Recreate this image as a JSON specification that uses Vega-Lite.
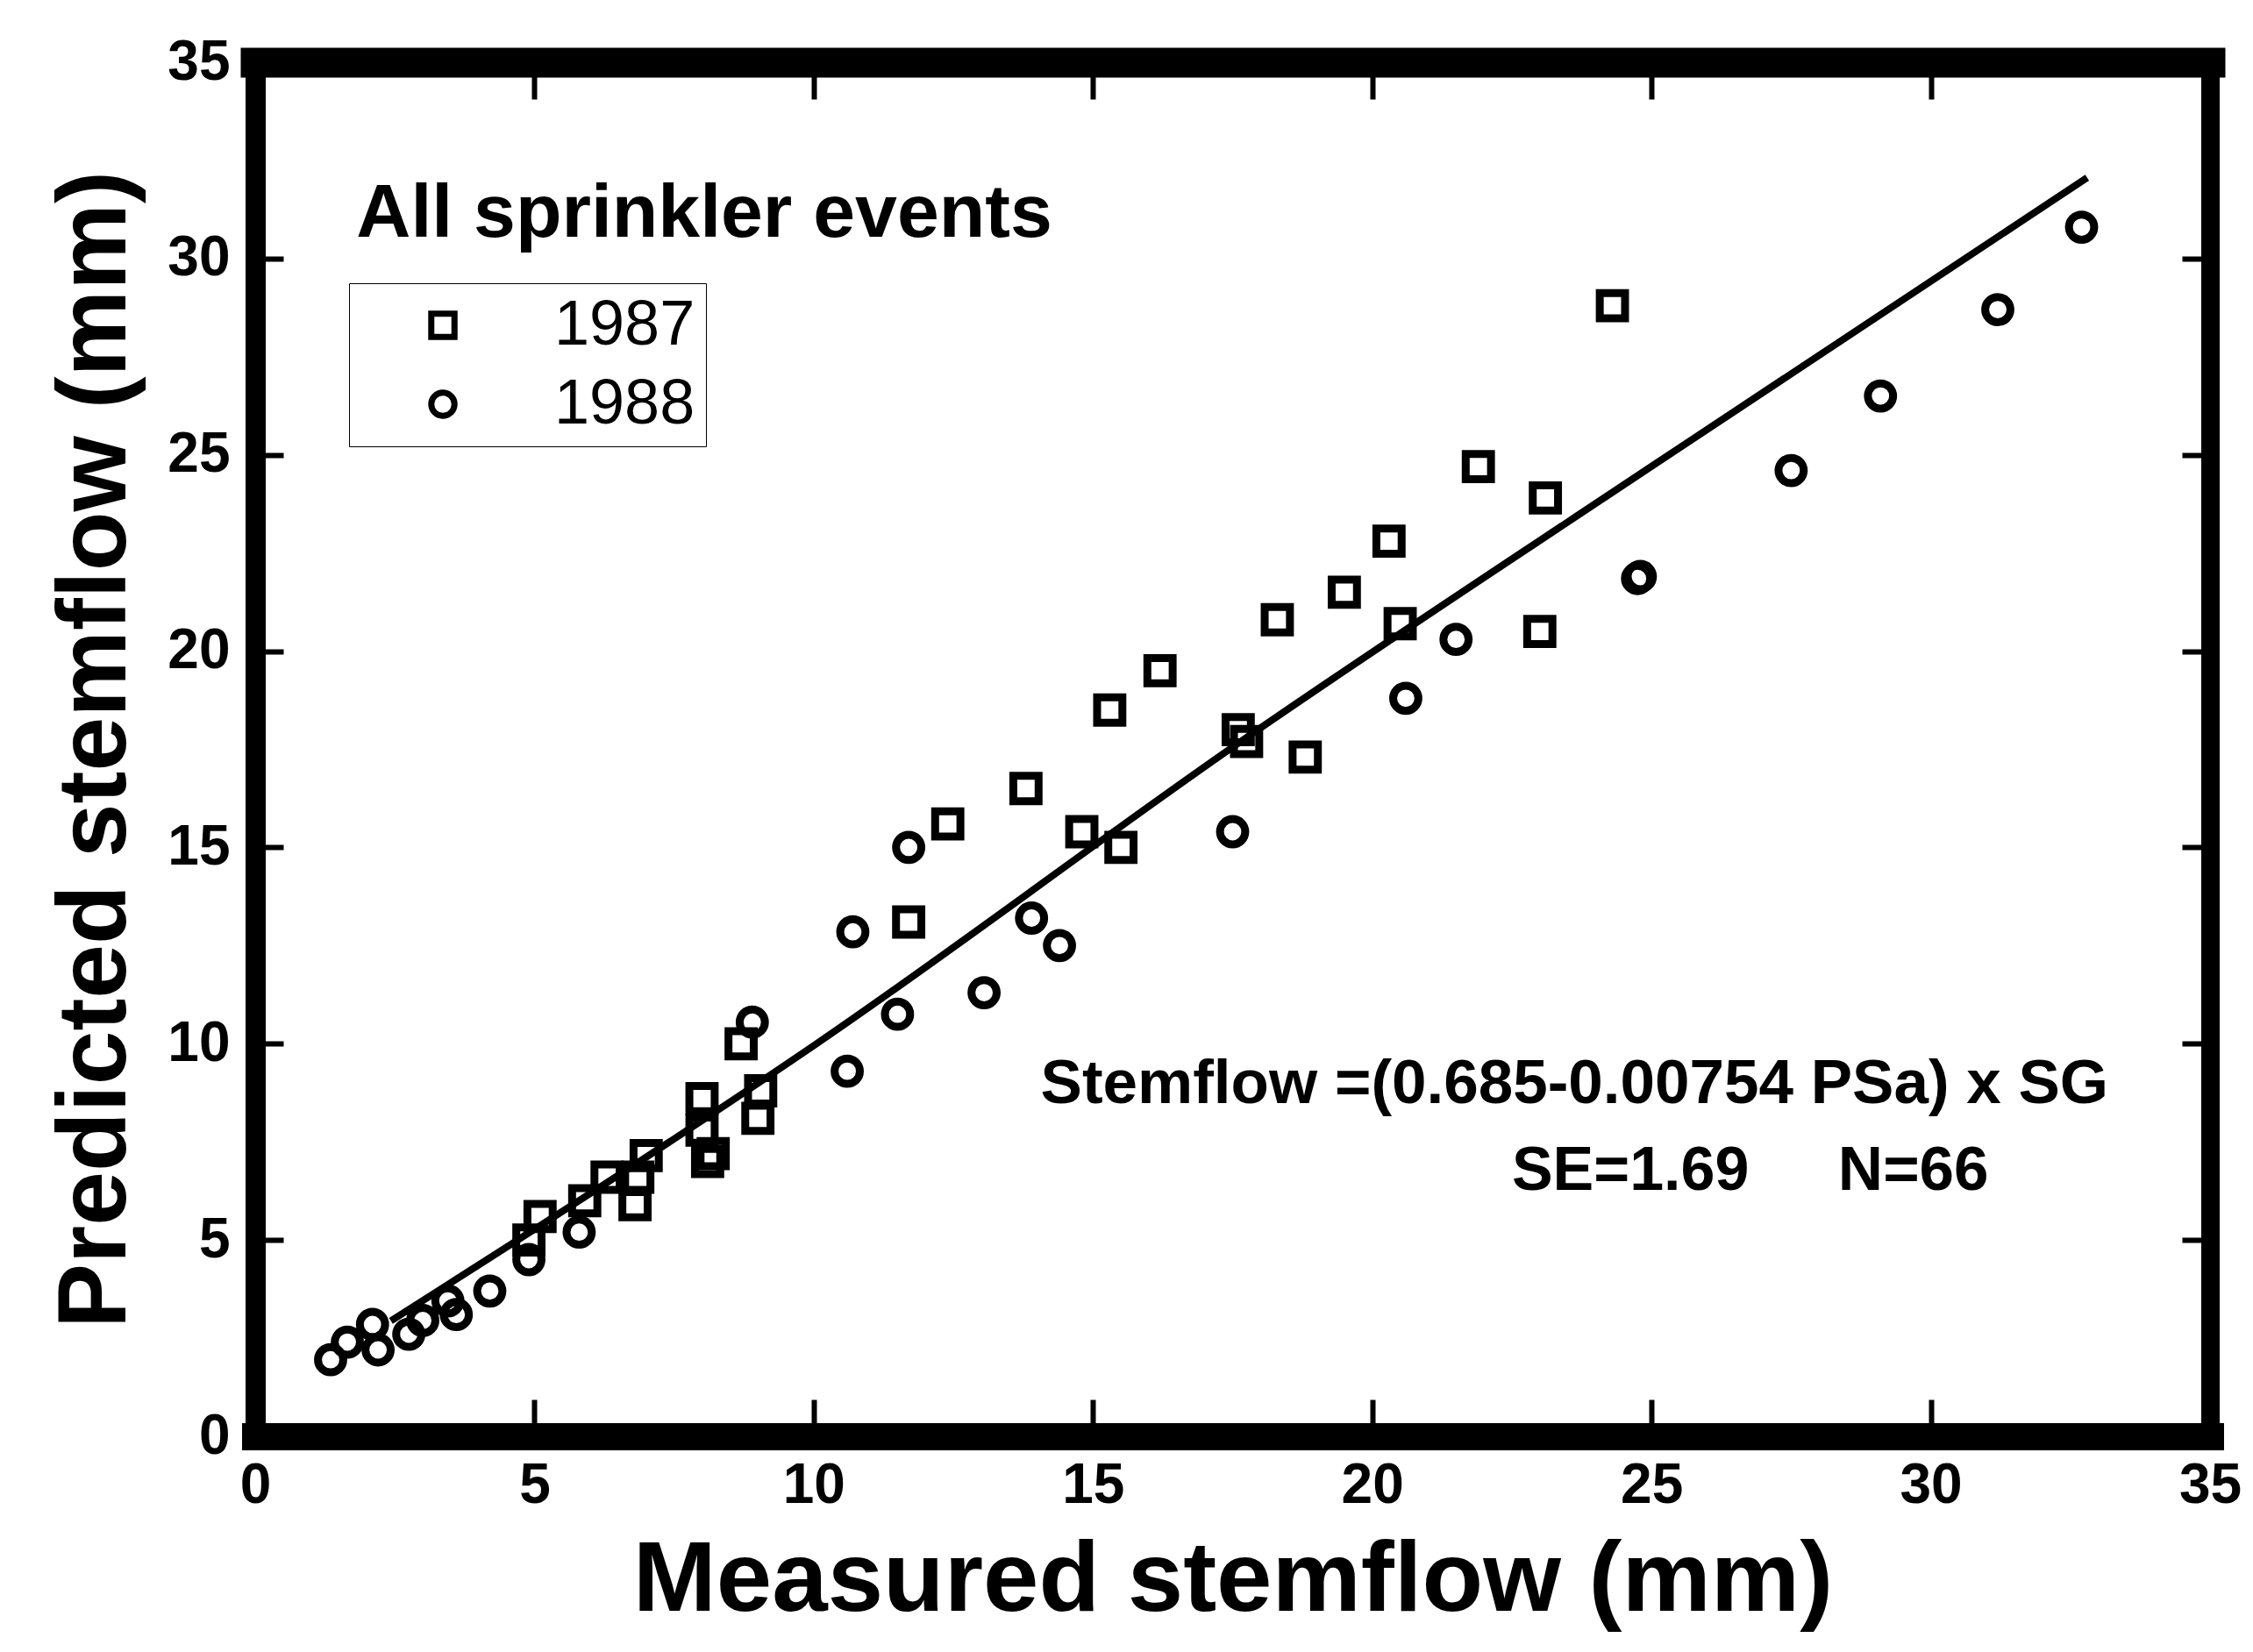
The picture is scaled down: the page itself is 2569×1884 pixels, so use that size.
{
  "$schema": "https://vega.github.io/schema/vega-lite/v6.json",
  "width": 2229,
  "height": 1567,
  "autosize": {"type": "none"},
  "padding": {"left": 291, "top": 71, "right": 49, "bottom": 246},
  "background": "white",
  "config": {
    "font": "Liberation Sans",
    "view": {"stroke": null},
    "axis": {"grid": false, "labelColor": "black", "titleColor": "black", "tickColor": "black", "domainColor": "black"}
  },
  "datasets": {
    "points": [
      {"year": "1987", "measured": 24.3, "predicted": 28.8},
      {"year": "1987", "measured": 21.9, "predicted": 24.7},
      {"year": "1987", "measured": 23.1, "predicted": 23.9},
      {"year": "1987", "measured": 20.3, "predicted": 22.8},
      {"year": "1987", "measured": 19.5, "predicted": 21.5},
      {"year": "1987", "measured": 18.3, "predicted": 20.8},
      {"year": "1987", "measured": 20.5, "predicted": 20.7},
      {"year": "1987", "measured": 23.0, "predicted": 20.5},
      {"year": "1987", "measured": 16.2, "predicted": 19.5},
      {"year": "1987", "measured": 15.3, "predicted": 18.5},
      {"year": "1987", "measured": 17.6, "predicted": 18.0},
      {"year": "1987", "measured": 17.75, "predicted": 17.7},
      {"year": "1987", "measured": 18.8, "predicted": 17.3},
      {"year": "1987", "measured": 13.8, "predicted": 16.5},
      {"year": "1987", "measured": 12.4, "predicted": 15.6},
      {"year": "1987", "measured": 14.8, "predicted": 15.4},
      {"year": "1987", "measured": 15.5, "predicted": 15.0},
      {"year": "1987", "measured": 11.7, "predicted": 13.1},
      {"year": "1987", "measured": 8.7, "predicted": 10.0},
      {"year": "1987", "measured": 8.0, "predicted": 8.6},
      {"year": "1987", "measured": 9.05, "predicted": 8.8},
      {"year": "1987", "measured": 9.0, "predicted": 8.1},
      {"year": "1987", "measured": 8.0, "predicted": 7.8},
      {"year": "1987", "measured": 8.1, "predicted": 7.0},
      {"year": "1987", "measured": 8.2, "predicted": 7.2},
      {"year": "1987", "measured": 7.0, "predicted": 7.15},
      {"year": "1987", "measured": 6.85, "predicted": 6.6},
      {"year": "1987", "measured": 6.8, "predicted": 5.9},
      {"year": "1987", "measured": 6.3, "predicted": 6.6},
      {"year": "1987", "measured": 5.9, "predicted": 6.0},
      {"year": "1987", "measured": 5.1, "predicted": 5.6},
      {"year": "1987", "measured": 4.9, "predicted": 5.0},
      {"year": "1988", "measured": 32.7, "predicted": 30.8},
      {"year": "1988", "measured": 31.2, "predicted": 28.7},
      {"year": "1988", "measured": 29.1, "predicted": 26.5},
      {"year": "1988", "measured": 27.5, "predicted": 24.6},
      {"year": "1988", "measured": 24.8, "predicted": 21.9},
      {"year": "1988", "measured": 24.75, "predicted": 21.85},
      {"year": "1988", "measured": 21.5, "predicted": 20.3},
      {"year": "1988", "measured": 20.6, "predicted": 18.8},
      {"year": "1988", "measured": 17.5, "predicted": 15.4},
      {"year": "1988", "measured": 11.7, "predicted": 15.0},
      {"year": "1988", "measured": 10.7, "predicted": 12.85},
      {"year": "1988", "measured": 13.9, "predicted": 13.2},
      {"year": "1988", "measured": 14.4, "predicted": 12.5},
      {"year": "1988", "measured": 13.05, "predicted": 11.3},
      {"year": "1988", "measured": 11.5, "predicted": 10.75},
      {"year": "1988", "measured": 10.6, "predicted": 9.3},
      {"year": "1988", "measured": 8.9, "predicted": 10.55},
      {"year": "1988", "measured": 5.8, "predicted": 5.2},
      {"year": "1988", "measured": 4.9, "predicted": 4.5},
      {"year": "1988", "measured": 4.2, "predicted": 3.7},
      {"year": "1988", "measured": 3.6, "predicted": 3.1},
      {"year": "1988", "measured": 3.45, "predicted": 3.45},
      {"year": "1988", "measured": 3.0, "predicted": 2.95},
      {"year": "1988", "measured": 2.75, "predicted": 2.6},
      {"year": "1988", "measured": 2.2, "predicted": 2.2},
      {"year": "1988", "measured": 2.1, "predicted": 2.85},
      {"year": "1988", "measured": 1.65, "predicted": 2.4},
      {"year": "1988", "measured": 1.35, "predicted": 1.95}
    ],
    "fit": [
      {"measured": 2.43, "predicted": 2.94},
      {"measured": 10.0, "predicted": 9.95},
      {"measured": 17.7, "predicted": 17.75},
      {"measured": 25.1, "predicted": 24.8},
      {"measured": 32.8, "predicted": 32.06}
    ]
  },
  "layer": [
    {
      "data": {"name": "fit"},
      "mark": {"type": "line", "color": "black", "strokeWidth": 8, "interpolate": "monotone"},
      "encoding": {
        "x": {
          "field": "measured", "type": "quantitative",
          "scale": {"domain": [0, 35], "nice": false, "zero": false},
          "axis": {
            "orient": "bottom", "values": [0, 5, 10, 15, 20, 25, 30, 35], "format": "d",
            "labelFontSize": 64, "labelFontWeight": "bold", "labelPadding": 66,
            "labelFlush": false, "labelOverlap": false,
            "tickSize": -42, "tickWidth": 6,
            "domainWidth": 31, "domainCap": "square",
            "title": "Measured stemflow (mm)", "titleFontSize": 114, "titleFontWeight": "bold", "titlePadding": 20
          }
        },
        "y": {
          "field": "predicted", "type": "quantitative",
          "scale": {"domain": [0, 35], "nice": false, "zero": false},
          "axis": {
            "orient": "left", "values": [0, 5, 10, 15, 20, 25, 30, 35], "format": "d",
            "labelFontSize": 64, "labelFontWeight": "bold", "labelPadding": 61,
            "labelFlush": false, "labelOverlap": false,
            "tickSize": -32, "tickWidth": 6,
            "domainWidth": 23, "domainCap": "square",
            "title": "Predicted stemflow (mm)", "titleFontSize": 111, "titleFontWeight": "bold", "titlePadding": 25
          }
        }
      }
    },
    {
      "data": {"name": "points"},
      "mark": {"type": "point", "filled": false, "color": "black", "strokeWidth": 9, "size": 830, "opacity": 1},
      "encoding": {
        "x": {
          "field": "measured", "type": "quantitative",
          "scale": {"domain": [0, 35], "nice": false, "zero": false},
          "axis": {
            "orient": "top", "values": [5, 10, 15, 20, 25, 30], "labels": false, "title": null,
            "tickSize": -42, "tickWidth": 6, "domainWidth": 34, "domainCap": "square"
          }
        },
        "y": {
          "field": "predicted", "type": "quantitative",
          "scale": {"domain": [0, 35], "nice": false, "zero": false},
          "axis": {
            "orient": "right", "values": [5, 10, 15, 20, 25, 30], "labels": false, "title": null,
            "tickSize": -32, "tickWidth": 6, "domainWidth": 21, "domainCap": "square"
          }
        },
        "shape": {
          "field": "year", "type": "nominal",
          "scale": {"domain": ["1987", "1988"], "range": ["square", "circle"]},
          "legend": {
            "orient": "none", "legendX": 107, "legendY": 252, "title": null,
            "padding": 12, "strokeColor": "black",
            "labelFontSize": 72, "labelColor": "black", "labelFont": "Liberation Sans", "labelLimit": 500,
            "symbolSize": 700, "symbolStrokeWidth": 7, "symbolStrokeColor": "black", "symbolFillColor": "transparent",
            "symbolOffset": 59, "labelOffset": 91, "rowPadding": 18,
            "encode": {"legend": {"update": {"strokeWidth": {"value": 3}}}}
          }
        }
      }
    },
    {
      "data": {"values": [{}]},
      "mark": {"type": "text", "align": "left", "baseline": "alphabetic", "fontSize": 86, "fontWeight": "bold", "color": "black"},
      "encoding": {
        "x": {"datum": 1.81, "type": "quantitative", "scale": {"domain": [0, 35]}, "axis": null},
        "y": {"datum": 30.56, "type": "quantitative", "scale": {"domain": [0, 35]}, "axis": null},
        "text": {"value": "All sprinkler events"}
      }
    },
    {
      "data": {"values": [{}]},
      "mark": {"type": "text", "align": "right", "baseline": "alphabetic", "fontSize": 71, "fontWeight": "bold", "color": "black"},
      "encoding": {
        "x": {"datum": 33.18, "type": "quantitative", "scale": {"domain": [0, 35]}, "axis": null},
        "y": {"datum": 8.49, "type": "quantitative", "scale": {"domain": [0, 35]}, "axis": null},
        "text": {"value": "Stemflow =(0.685-0.00754 PSa) x SG"}
      }
    },
    {
      "data": {"values": [{}]},
      "mark": {"type": "text", "align": "left", "baseline": "alphabetic", "fontSize": 70, "fontWeight": "bold", "color": "black"},
      "encoding": {
        "x": {"datum": 22.5, "type": "quantitative", "scale": {"domain": [0, 35]}, "axis": null},
        "y": {"datum": 6.28, "type": "quantitative", "scale": {"domain": [0, 35]}, "axis": null},
        "text": {"value": "SE=1.69"}
      }
    },
    {
      "data": {"values": [{}]},
      "mark": {"type": "text", "align": "left", "baseline": "alphabetic", "fontSize": 71, "fontWeight": "bold", "color": "black"},
      "encoding": {
        "x": {"datum": 28.34, "type": "quantitative", "scale": {"domain": [0, 35]}, "axis": null},
        "y": {"datum": 6.28, "type": "quantitative", "scale": {"domain": [0, 35]}, "axis": null},
        "text": {"value": "N=66"}
      }
    }
  ],
  "resolve": {"axis": {"x": "independent", "y": "independent"}}
}
